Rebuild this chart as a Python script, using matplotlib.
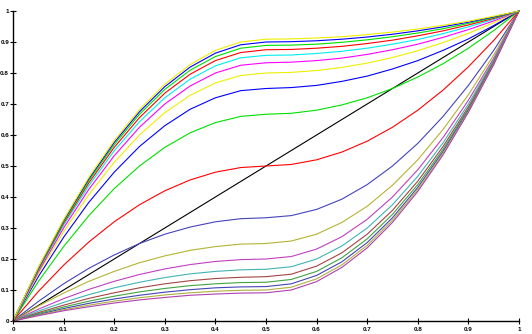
import matplotlib
matplotlib.use("Agg")
import matplotlib.pyplot as plt

# x sample positions (shared by all curves)
x_vals = [0.0, 0.05, 0.1, 0.15, 0.2, 0.25, 0.3, 0.35, 0.4, 0.45, 0.5,
          0.55, 0.6, 0.65, 0.7, 0.75, 0.8, 0.85, 0.9, 0.95, 1.0]

# upper family (bright colours), plateau at x=0.5 from 0.5 up to ~0.91
upper_curves = [
    [0, .095, .18, .255, .32, .375, .42, .455, .48, .495, .5, .505, .52, .545, .58, .625, .68, .745, .82, .905, 1],
    [0, .127, .24, .34, .427, .5, .56, .607, .64, .66, .667, .67, .68, .697, .72, .75, .787, .83, .88, .937, 1],
    [0, .143, .27, .383, .48, .563, .63, .683, .72, .743, .75, .753, .76, .773, .79, .813, .84, .873, .91, .953, 1],
    [0, .152, .288, .408, .512, .6, .672, .728, .768, .792, .8, .802, .808, .818, .832, .85, .872, .898, .928, .962, 1],
    [0, .158, .3, .425, .533, .625, .7, .758, .8, .825, .833, .835, .84, .848, .86, .875, .893, .915, .94, .968, 1],
    [0, .163, .309, .437, .549, .643, .72, .78, .823, .849, .857, .858, .863, .87, .88, .893, .908, .927, .949, .973, 1],
    [0, .166, .315, .446, .56, .656, .735, .796, .84, .866, .875, .876, .88, .886, .895, .906, .92, .936, .955, .976, 1],
    [0, .169, .32, .453, .569, .667, .747, .809, .853, .88, .889, .89, .893, .899, .907, .917, .929, .943, .96, .979, 1],
    [0, .171, .324, .459, .576, .675, .756, .819, .864, .891, .9, .901, .904, .909, .916, .925, .936, .949, .964, .981, 1],
    [0, .173, .327, .464, .582, .682, .764, .827, .873, .9, .909, .91, .913, .917, .924, .932, .942, .954, .967, .983, 1],
]
upper_colors = ["#ff0000", "#00e000", "#0000ff", "#eeee00", "#ff00ff",
                "#00eeee", "#ff0000", "#00e000", "#0000ff", "#eeee00"]

# lower family (darker colours), plateau at x=0.5 from ~0.33 down to ~0.09
lower_curves = [
    [0, .063, .12, .17, .213, .25, .28, .303, .32, .33, .333, .34, .36, .393, .44, .5, .573, .66, .76, .873, 1],
    [0, .048, .09, .128, .16, .188, .21, .228, .24, .248, .25, .258, .28, .318, .37, .438, .52, .618, .73, .858, 1],
    [0, .038, .072, .102, .128, .15, .168, .182, .192, .198, .2, .208, .232, .272, .328, .4, .488, .592, .712, .848, 1],
    [0, .032, .06, .085, .107, .125, .14, .152, .16, .165, .167, .175, .2, .242, .3, .375, .467, .575, .7, .842, 1],
    [0, .027, .051, .073, .091, .107, .12, .13, .137, .141, .143, .151, .177, .22, .28, .357, .451, .563, .691, .837, 1],
    [0, .024, .045, .064, .08, .094, .105, .114, .12, .124, .125, .134, .16, .204, .265, .344, .44, .554, .685, .834, 1],
    [0, .021, .04, .057, .071, .083, .093, .101, .107, .11, .111, .12, .147, .191, .253, .333, .431, .547, .68, .831, 1],
    [0, .019, .036, .051, .064, .075, .084, .091, .096, .099, .1, .109, .136, .181, .244, .325, .424, .541, .676, .829, 1],
    [0, .017, .033, .046, .058, .068, .076, .083, .087, .09, .091, .1, .127, .173, .236, .318, .418, .536, .673, .827, 1],
]
lower_colors = ["#4444bb", "#b4b434", "#c040c0", "#40b4b4", "#a44444",
                "#40a440", "#4444b4", "#b0b040", "#b040b0"]

diag_x = [0.0, 1.0]
diag_y = [0.0, 1.0]

tick_pos = [0, 0.1, 0.2, 0.3, 0.4, 0.5, 0.6, 0.7, 0.8, 0.9, 1]
tick_labels = ["0", "0.1", "0.2", "0.3", "0.4", "0.5", "0.6", "0.7", "0.8", "0.9", "1"]

fig = plt.figure(figsize=(5.32, 3.34), dpi=100)
ax = fig.add_axes([13 / 532, 13 / 334, 506 / 532, 310 / 334])

ax.plot(diag_x, diag_y, color="black", lw=0.8, clip_on=False)
for ys, c in zip(lower_curves, lower_colors):
    ax.plot(x_vals, ys, color=c, lw=0.8, clip_on=False)
for ys, c in zip(upper_curves, upper_colors):
    ax.plot(x_vals, ys, color=c, lw=0.8, clip_on=False)

ax.set_xlim(0, 1)
ax.set_ylim(0, 1)
ax.spines["top"].set_visible(False)
ax.spines["right"].set_visible(False)
for s in ("left", "bottom"):
    ax.spines[s].set_linewidth(1.0)
ax.set_xticks(tick_pos)
ax.set_xticklabels(tick_labels)
ax.set_yticks(tick_pos)
ax.set_yticklabels(tick_labels)
ax.tick_params(direction="inout", length=4.5, width=0.8, labelsize=4.5)
ax.tick_params(axis="x", pad=2)
ax.tick_params(axis="y", pad=0.6)
for lab in ax.get_xticklabels() + ax.get_yticklabels():
    lab.set_fontweight("bold")
    lab.set_family(["Liberation Sans", "DejaVu Sans"])

fig.savefig("out.png", dpi=100)
